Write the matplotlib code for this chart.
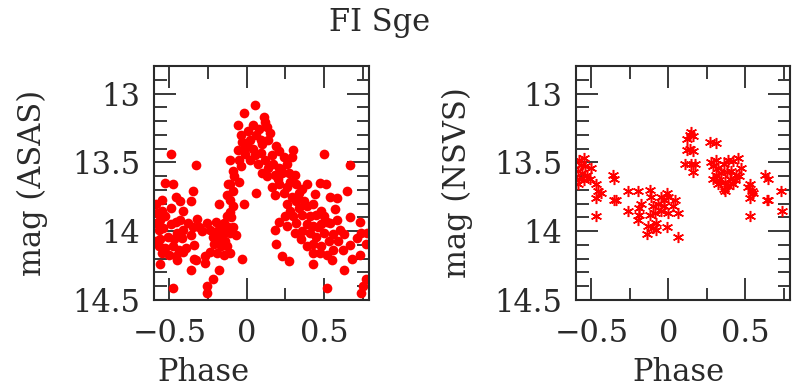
import matplotlib.pyplot as plt
from matplotlib.ticker import MultipleLocator, FuncFormatter

plt.rcParams['font.family'] = ['DejaVu Serif']

# ASAS light curve (phase, mag)
asas_phase = [
    -0.49, -0.33, 0.05, -0.02, 0.50, 0.67, 0.06, -0.48, -0.26, -0.26, -0.22, 0.52, 0.74, 0.75, 0.77,
    -0.36, -0.18, -0.03, 0.27, 0.23, 0.43, 0.63, -0.56, 0.19, 0.18, -0.02, -0.18, -0.36, -0.35, -0.53,
    -0.48, -0.59, -0.55, -0.46, -0.43, 0.30, 0.21, 0.47, 0.51, 0.65, 0.54, 0.58, 0.39, 0.43, 0.67,
    0.73, 0.78, 0.77, 0.73, 0.68,
    -0.06, 0.11, 0.12, 0.13, 0.04, 0.01, -0.04, 0.06, 0.09, 0.14, 0.02, -0.03, -0.06, -0.02, 0.04,
    0.09, -0.11, -0.05, 0.02, 0.07, 0.12, 0.16, 0.17, 0.24, 0.29, 0.26, 0.21, 0.14, 0.10, 0.13,
    0.18, 0.23, 0.27, 0.31, -0.09, -0.04, -0.08, -0.11, -0.05, -0.09, 0.16, 0.21, 0.26, 0.32, 0.36,
    0.18, 0.24, 0.29, 0.34, 0.32, 0.26, 0.28, 0.34, 0.39, 0.25, 0.30, 0.36, 0.41, 0.45, 0.48,
    0.50, 0.32, 0.39, 0.43, 0.48, 0.52, 0.21, 0.26, 0.41, 0.45, 0.50, 0.43, 0.48, 0.53, 0.56,
    0.60, 0.63, 0.59, 0.56, 0.62, 0.67, 0.71, 0.74, 0.52, 0.47, 0.43, 0.55, 0.39, 0.35, 0.31,
    0.36, 0.54, 0.58,
    -0.12, -0.13, -0.11, -0.09, -0.11, -0.13, -0.10, -0.15, -0.12, -0.09, -0.11, -0.07,
    -0.26, -0.20, -0.16, -0.24, -0.19, -0.15, -0.22, -0.18, -0.14, -0.21, -0.17, -0.13, -0.19, -0.15,
    -0.11, -0.24, -0.27, -0.27, -0.31, -0.32, -0.29,
    -0.59, -0.56, -0.53, -0.49, -0.57, -0.54, -0.49, -0.46, -0.43, -0.38, -0.35, -0.41, -0.45, -0.59,
    -0.56, -0.51, -0.47, -0.42, -0.36, -0.57, -0.53, -0.48, -0.44, -0.39, -0.34, -0.55, -0.50, -0.46,
    -0.41, -0.34, -0.45, -0.33, -0.58, -0.55, -0.41,
    0.00, 0.08, 0.15, 0.19, 0.22, 0.05, -0.01, 0.10, 0.20, 0.28, 0.33, 0.37, 0.44, 0.46, 0.57,
]
asas_mag = [
    13.44, 13.52, 13.08, 13.14, 13.44, 13.52, 13.72, 14.41, 14.40, 14.45, 14.35, 14.41, 14.45, 14.40, 14.35,
    14.28, 14.28, 14.20, 14.22, 14.18, 14.24, 14.28, 14.24, 14.09, 13.99, 13.80, 13.80, 13.78, 13.71, 13.65,
    13.66, 13.80, 13.77, 13.75, 13.78, 13.41, 13.42, 13.65, 13.66, 13.71, 13.75, 13.76, 13.66, 13.80, 13.90,
    13.93, 14.01, 14.09, 14.17, 14.20,
    13.23, 13.17, 13.21, 13.24, 13.23, 13.27, 13.30, 13.30, 13.34, 13.34, 13.34, 13.35, 13.41, 13.41, 13.40,
    13.43, 13.48, 13.48, 13.48, 13.51, 13.48, 13.45, 13.51, 13.46, 13.46, 13.51, 13.54, 13.54, 13.58, 13.60,
    13.59, 13.58, 13.58, 13.59, 13.56, 13.53, 13.60, 13.66, 13.64, 13.71, 13.68, 13.66, 13.68, 13.66, 13.69,
    13.74, 13.72, 13.75, 13.72, 13.78, 13.80, 13.85, 13.83, 13.82, 13.89, 13.89, 13.88, 13.89, 13.88, 13.85,
    13.89, 13.94, 13.95, 13.96, 13.95, 13.93, 13.93, 13.96, 14.01, 14.04, 14.01, 14.09, 14.11, 14.07, 14.02,
    13.99, 14.02, 14.07, 14.14, 14.14, 14.10, 14.05, 14.01, 14.17, 14.16, 14.16, 14.21, 14.11, 14.06, 14.01,
    14.00, 13.94, 13.92,
    13.66, 13.74, 13.77, 13.82, 13.86, 13.89, 13.90, 13.94, 13.97, 13.97, 14.01, 14.03,
    13.94, 13.93, 13.97, 13.99, 14.00, 14.01, 14.04, 14.06, 14.07, 14.09, 14.11, 14.11, 14.16, 14.17,
    14.16, 14.15, 14.18, 14.23, 13.97, 13.91, 14.00,
    13.94, 13.92, 13.89, 13.83, 13.99, 13.98, 13.95, 13.93, 13.92, 13.94, 13.97, 13.99, 14.01, 14.07,
    14.06, 14.04, 14.06, 14.05, 14.03, 14.11, 14.12, 14.11, 14.14, 14.12, 14.10, 14.16, 14.17, 14.18,
    14.15, 14.20, 14.21, 14.21, 13.87, 13.85, 13.85,
    13.38, 13.26, 13.29, 13.38, 13.55, 13.45, 13.44, 13.37, 13.62, 13.64, 13.76, 13.78, 13.73, 13.97, 13.84,
]

# NSVS light curve (phase, mag)
nsvs_phase = [
    -0.58, -0.55, -0.57, -0.54, -0.59, -0.56, -0.53, -0.58, -0.55, -0.59, -0.50, -0.51,
    -0.47, -0.46, -0.44, -0.47, -0.47, -0.36, -0.35, -0.35, -0.34,
    -0.26, -0.20, -0.26, -0.18, -0.19, -0.20, -0.19, -0.12, -0.11, -0.10, -0.07, -0.05, -0.03, -0.01,
    0.00, -0.12, -0.09, -0.05, -0.08, -0.10, -0.13, -0.14, -0.08, -0.01, 0.00, 0.03, 0.04, 0.06, 0.06,
    -0.03,
    0.12, 0.15, 0.16, 0.14, 0.12, 0.16, 0.14, 0.11, 0.15, 0.17, 0.16,
    0.27, 0.31, 0.28, 0.31, 0.29, 0.32, 0.36, 0.39, 0.42, 0.45, 0.47, 0.31, 0.34, 0.38, 0.41, 0.44,
    0.33, 0.37, 0.40, 0.43, 0.46, 0.36, 0.39, 0.42, 0.37, 0.29, 0.32,
    0.53, 0.54, 0.55, 0.53, 0.53, 0.52, 0.63, 0.65, 0.64, 0.65, 0.73, 0.74,
]
nsvs_mag = [
    13.48, 13.47, 13.52, 13.53, 13.56, 13.58, 13.59, 13.62, 13.63, 13.66, 13.54, 13.62,
    13.66, 13.71, 13.72, 13.76, 13.89, 13.59, 13.62, 13.77, 13.77,
    13.71, 13.71, 13.85, 13.80, 13.83, 13.92, 13.88, 13.70, 13.75, 13.82, 13.80, 13.75, 13.77, 13.72,
    13.75, 13.88, 13.87, 13.85, 13.94, 13.98, 13.96, 14.02, 13.99, 13.97, 13.87, 13.82, 13.77, 13.87, 14.04,
    13.82,
    13.33, 13.28, 13.31, 13.30, 13.41, 13.42, 13.40, 13.51, 13.51, 13.51, 13.57,
    13.35, 13.36, 13.50, 13.48, 13.53, 13.54, 13.51, 13.48, 13.49, 13.47, 13.54, 13.59, 13.58, 13.57, 13.56, 13.59,
    13.63, 13.64, 13.62, 13.63, 13.60, 13.69, 13.67, 13.66, 13.71, 13.62, 13.66,
    13.66, 13.71, 13.72, 13.76, 13.89, 13.68, 13.59, 13.62, 13.77, 13.77, 13.71, 13.85,
]

def minus_fmt(v, pos):
    s = '%g' % v
    return s.replace('-', '\u2212')

def style_axes(ax, ylabel, xlabel_x, ypad):
    ax.set_xlim(-0.6, 0.79)
    ax.set_ylim(14.5, 12.8)
    ax.xaxis.set_major_locator(MultipleLocator(0.5))
    ax.xaxis.set_minor_locator(MultipleLocator(0.25))
    ax.yaxis.set_major_locator(MultipleLocator(0.5))
    ax.yaxis.set_minor_locator(MultipleLocator(0.1))
    ax.xaxis.set_major_formatter(FuncFormatter(minus_fmt))
    ax.yaxis.set_major_formatter(FuncFormatter(minus_fmt))
    ax.tick_params(which='both', direction='in', top=True, right=True, width=1.3,
                   labelsize=22, colors='#2a2a2a')
    ax.tick_params(which='major', length=16)
    ax.tick_params(which='minor', length=9)
    ax.tick_params(axis='x', which='major', pad=13)
    ax.tick_params(axis='y', which='major', pad=10)
    for sp in ax.spines.values():
        sp.set_linewidth(1.5)
        sp.set_color('#2a2a2a')
    ax.set_ylabel(ylabel, fontsize=22, color='#2a2a2a', labelpad=ypad)
    ax.set_xlabel('Phase', fontsize=22, color='#2a2a2a')
    ax.xaxis.set_label_coords(xlabel_x, -0.245)

fig = plt.figure(figsize=(7.93, 3.88), dpi=100)
ax1 = fig.add_axes([154/793, 88/388, 215/793, 234/388])
ax2 = fig.add_axes([576/793, 88/388, 214/793, 234/388])

ax1.plot(asas_phase, asas_mag, 'o', color='red', ms=7, mew=0)
ax2.plot(nsvs_phase, nsvs_mag, marker=(6, 2, 0), ls='none', color='red', ms=8, mew=1.1)

style_axes(ax1, 'mag (ASAS)', 0.23, 17)
style_axes(ax2, 'mag (NSVS)', 0.48, 15)

fig.text(380/793, 1 - 22/388, 'FI Sge', ha='center', va='center', fontsize=22, color='#2a2a2a')

fig.savefig('out.png', dpi=100)
